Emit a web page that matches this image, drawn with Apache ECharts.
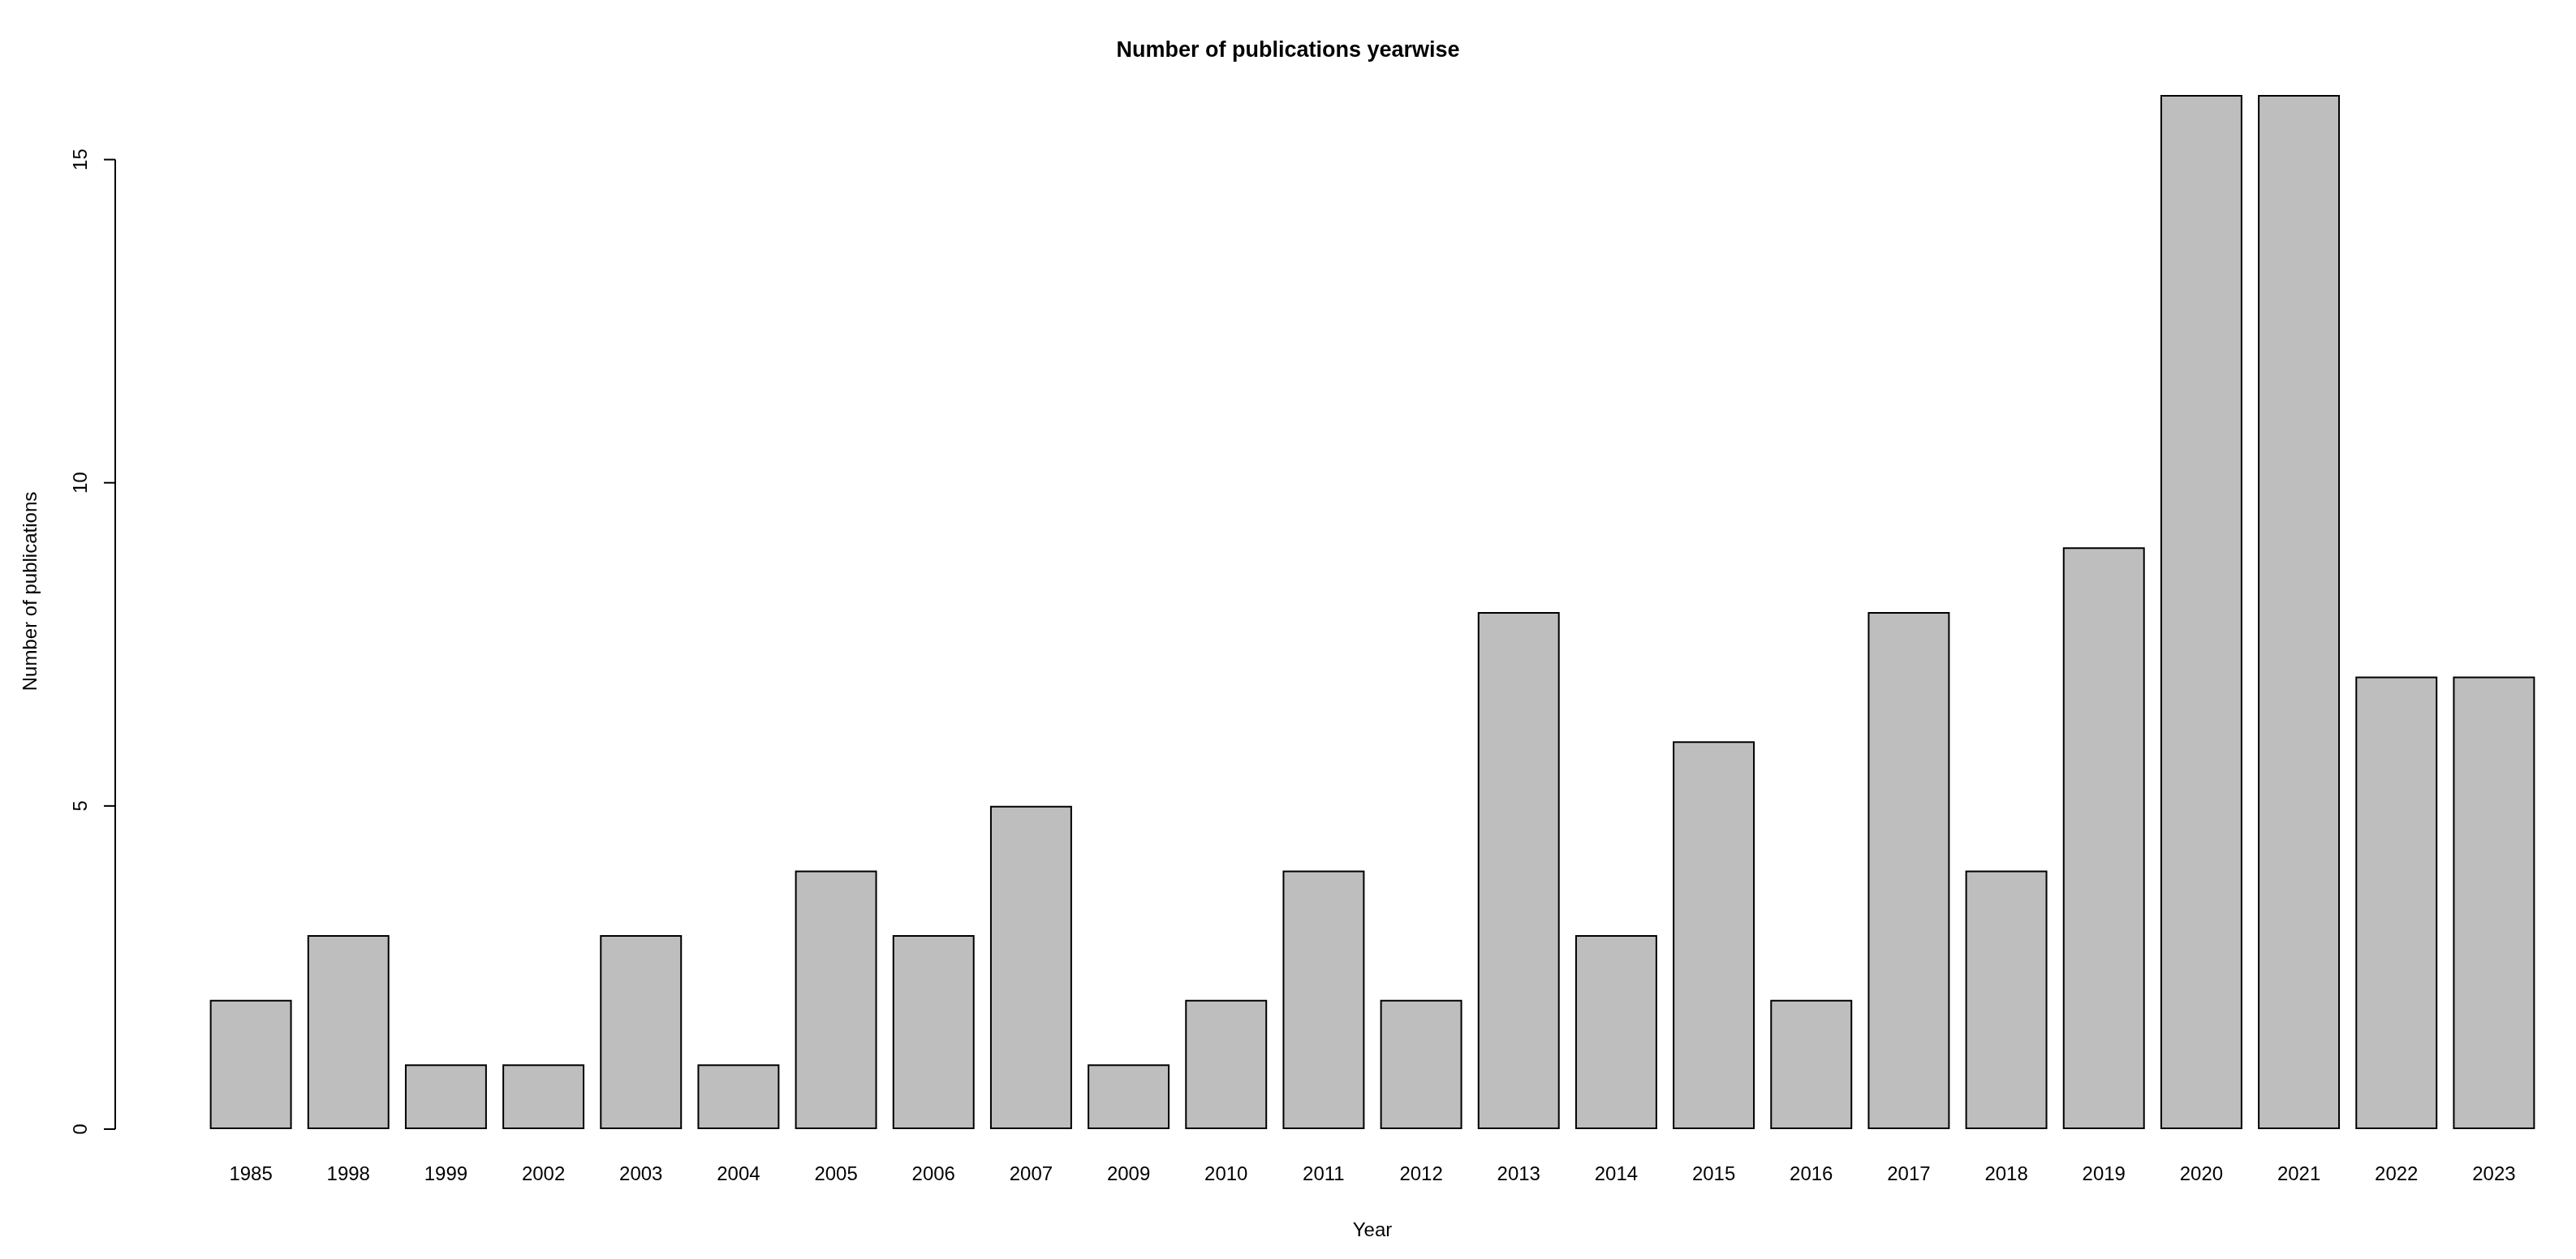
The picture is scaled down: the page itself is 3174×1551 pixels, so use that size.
<!DOCTYPE html>
<html><head><meta charset="utf-8">
<script src="https://cdn.jsdelivr.net/npm/echarts@6/dist/echarts.min.js"></script>
<style>html,body{margin:0;padding:0;background:#fff}#c{width:3174px;height:1551px}</style>
</head><body><div id="c"></div>
<script>
const years = ['1985','1998','1999','2002','2003','2004','2005','2006','2007','2009','2010','2011','2012','2013','2014','2015','2016','2017','2018','2019','2020','2021','2022','2023'];
const counts = [2,3,1,1,3,1,4,3,5,1,2,4,2,8,3,6,2,8,4,9,16,16,7,7];
const yTicks = [0,5,10,15];
const chart = echarts.init(document.getElementById('c'));
const font = 'Liberation Sans, Arial, sans-serif';
chart.setOption({
  animation:false,
  title:{text:'Number of publications yearwise',left:'center',top:44,textStyle:{fontFamily:font,fontSize:27,fontWeight:'bold',color:'#000'}},
  grid:{left:249,right:41,top:66,bottom:160},
  xAxis:{type:'category',data:years,axisLine:{show:false},axisTick:{show:false},
    axisLabel:{margin:44,fontSize:24,fontFamily:font,color:'#000'},
    name:'Year',nameLocation:'middle',nameGap:113,nameTextStyle:{fontSize:24,fontFamily:font,color:'#000'}},
  yAxis:{type:'value',min:0,max:16.64,interval:5,offset:107,splitLine:{show:false},
    axisLine:{show:false},axisTick:{show:false},
    axisLabel:{show:false},
    name:'Number of publications',nameLocation:'middle',nameGap:92,nameRotate:90,nameTextStyle:{fontSize:24,fontFamily:font,color:'#000'}},
  series:[{type:'bar',data:counts,barCategoryGap:'16%',itemStyle:{color:'#bebebe',borderColor:'#000',borderWidth:2}}]
});
// draw R-style y axis (0..15) from axis scale
const x0 = chart.convertToPixel({gridIndex:0},[0,0])[0];
const ax = 142;
const g = [];
const pTop = chart.convertToPixel({yAxisIndex:0},yTicks[yTicks.length-1]);
const pBot = chart.convertToPixel({yAxisIndex:0},yTicks[0]);
g.push({type:'line',shape:{x1:ax,y1:pTop,x2:ax,y2:pBot},style:{stroke:'#000',lineWidth:2}});
yTicks.forEach(t=>{
  const py = chart.convertToPixel({yAxisIndex:0},t);
  g.push({type:'line',shape:{x1:ax-14,y1:py,x2:ax,y2:py},style:{stroke:'#000',lineWidth:2}});
  g.push({type:'text',x:100,y:py,rotation:Math.PI/2,style:{text:String(t),fontSize:24,fontFamily:font,fill:'#000',align:'center',verticalAlign:'middle'}});
});
chart.setOption({graphic:g});
</script></body></html>
